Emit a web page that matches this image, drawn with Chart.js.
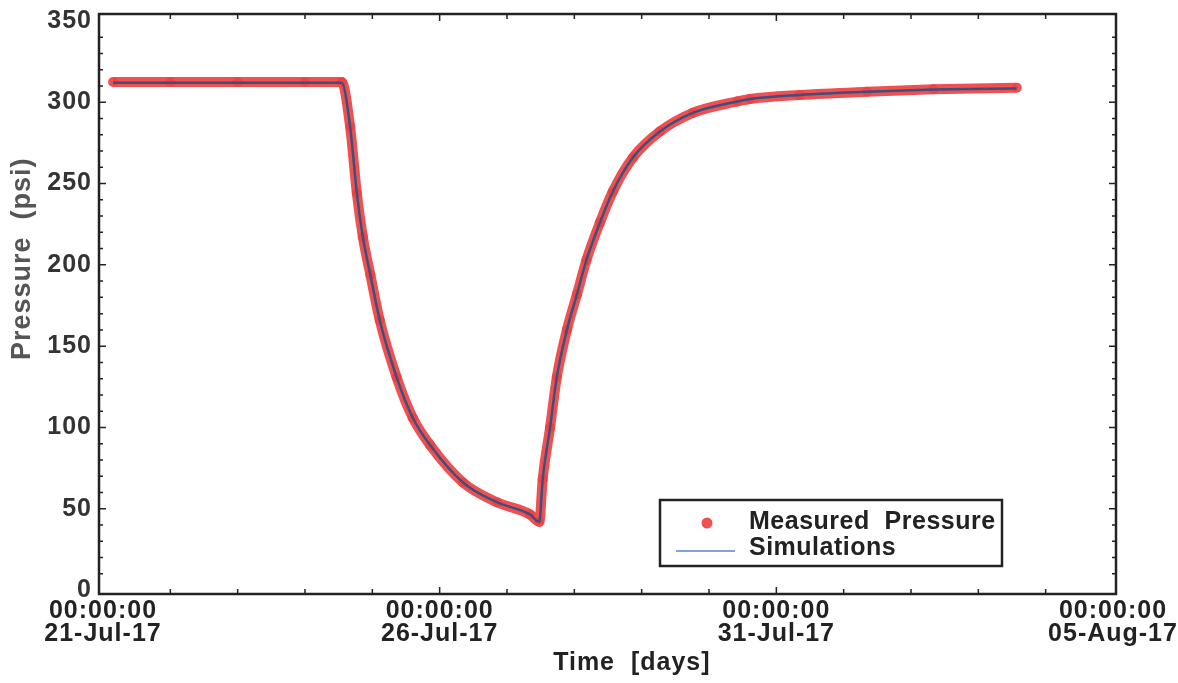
<!DOCTYPE html>
<html>
<head>
<meta charset="utf-8">
<script src="https://cdn.jsdelivr.net/npm/chart.js@4"></script>
<style>
  html, body { margin: 0; padding: 0; background: #fff; }
  #wrap { width: 1178px; height: 683px; }
</style>
</head>
<body>
<div id="wrap"><canvas id="chartPressure" width="1178" height="683"></canvas></div>
<script>
// elapsed time in days since 21-Jul-17 00:00:00
const DAYS = [0.15, 1.0, 2.0, 3.0, 3.545, 3.67, 3.77, 3.86, 3.97, 4.11, 4.36, 4.60, 4.86, 5.35, 5.85, 6.34, 6.48,
    6.53, 6.64, 6.74, 6.89, 7.04, 7.18, 7.38, 7.57, 7.87, 8.27, 8.76, 9.42, 9.61, 10.35, 11.35, 12.33, 13.57];
const MEASURED_PSI = [312.5, 312.5, 312.5, 312.5, 312.5, 285, 244, 217, 194, 166, 131, 106, 89, 66, 54, 46.5, 42,
    68, 100, 131, 160, 182, 203, 226, 245, 266, 282, 293.5, 300.5, 302, 304.5, 306.5, 308, 309];
const SIMULATED_PSI = [312, 312, 312, 312, 312, 285, 244, 217, 194, 166, 131, 106, 89, 66, 54, 46.5, 42,
    68, 100, 131, 160, 182, 203, 226, 245, 266, 282, 293.5, 300.5, 302, 304.5, 306.5, 307.8, 308.5];
const X_TICK_TIMES = ["00:00:00", "00:00:00", "00:00:00", "00:00:00"];
const X_TICK_DATES = ["21-Jul-17", "26-Jul-17", "31-Jul-17", "05-Aug-17"];

const FONT = "'Liberation Sans', Arial, sans-serif";
const RED = "rgba(238, 66, 66, 0.92)";
const BLUE = "#3d4f7e";

function toPoints(xs, ys) {
    return xs.map((x, i) => ({ x: x, y: ys[i] }));
}

// the original lettering is set a bit wider than Liberation Sans bold
const spacingPlugin = {
    id: 'spacing',
    beforeUpdate(chart) { chart.ctx.letterSpacing = '1px'; },
    beforeDraw(chart) { chart.ctx.letterSpacing = '1px'; },
};

// frame, inward ticks and legend box
const framePlugin = {
    id: 'frame',
    afterDraw(chart) {
        const ctx = chart.ctx;
        const a = chart.chartArea;
        const xs = chart.scales.x, ys = chart.scales.y;
        const fl = a.left - 4, ft = a.top - 7, fr = a.right + 3, fb = a.bottom + 4;
        ctx.save();
        ctx.strokeStyle = "#222";
        ctx.lineWidth = 2.5;
        ctx.strokeRect(fl, ft, fr - fl, fb - ft);

        ctx.lineWidth = 1.5;
        ctx.beginPath();
        for (let d = 1; d < 15; d++) {
            const px = xs.getPixelForValue(d);
            const len = d % 5 === 0 ? 7 : 5;
            ctx.moveTo(px, fb); ctx.lineTo(px, fb - len);
            ctx.moveTo(px, ft); ctx.lineTo(px, ft + len);
        }
        for (let v = 10; v < 350; v += 10) {
            const py = ys.getPixelForValue(v);
            const len = v % 50 === 0 ? 7 : 4;
            ctx.moveTo(fl, py); ctx.lineTo(fl + len, py);
            ctx.moveTo(fr, py); ctx.lineTo(fr - len, py);
        }
        ctx.stroke();

        // legend
        const bx = a.right - 453, by = a.bottom - 90, bw = 342, bh = 66;
        ctx.fillStyle = "#fff";
        ctx.fillRect(bx, by, bw, bh);
        ctx.lineWidth = 2.5;
        ctx.strokeStyle = "#222";
        ctx.strokeRect(bx, by, bw, bh);
        const ds = chart.data.datasets;
        ctx.fillStyle = RED;
        ctx.beginPath();
        ctx.arc(bx + 47, by + 23, 5.5, 0, Math.PI * 2);
        ctx.fill();
        ctx.strokeStyle = "#5b86c4";
        ctx.lineWidth = 1.5;
        ctx.beginPath();
        ctx.moveTo(bx + 16, by + 51); ctx.lineTo(bx + 75, by + 51);
        ctx.stroke();
        ctx.fillStyle = "#222";
        ctx.font = "bold 25px " + FONT;
        ctx.letterSpacing = '0.5px';
        ctx.textBaseline = "middle";
        ctx.fillText(ds[0].label, bx + 89, by + 22);
        ctx.fillText(ds[1].label, bx + 89, by + 48);
        ctx.restore();
    }
};

function createPressureChart() {
    const data = {
        datasets: [{
            label: 'Measured  Pressure',
            data: toPoints(DAYS, MEASURED_PSI),
            borderColor: RED,
            backgroundColor: RED,
            borderWidth: 10,
            pointRadius: 5,
            pointBorderWidth: 0,
            cubicInterpolationMode: 'monotone',
            order: 2,
        },
        {
            label: 'Simulations',
            data: toPoints(DAYS, SIMULATED_PSI),
            borderColor: BLUE,
            backgroundColor: BLUE,
            borderWidth: 2.5,
            pointRadius: 0,
            cubicInterpolationMode: 'monotone',
            order: 1,
        }]
    };

    const config = {
        type: 'line',
        data: data,
        options: {
            responsive: false,
            animation: false,
            layout: { padding: { top: 21, right: 65, left: 0, bottom: 0 } },
            plugins: {
                legend: { display: false },
                tooltip: { enabled: false },
            },
            scales: {
                x: {
                    type: 'linear',
                    min: 0,
                    max: 15,
                    afterFit: (s) => { s.height = 93; s.paddingLeft = 0; s.paddingRight = 0; },
                    afterBuildTicks: (s) => { s.ticks = [0, 5, 10, 15].map(v => ({ value: v })); },
                    grid: { display: false, drawTicks: false },
                    border: { display: false },
                    ticks: {
                        padding: 10,
                        maxRotation: 0,
                        autoSkip: false,
                        color: '#222',
                        font: { family: FONT, size: 25, weight: 'bold', lineHeight: 0.92 },
                        callback: (v) => [X_TICK_TIMES[v / 5], X_TICK_DATES[v / 5]],
                    },
                    title: {
                        display: true,
                        text: '      Time  [days]',
                        color: '#222',
                        font: { family: FONT, size: 25, weight: 'bold', lineHeight: 1.1 },
                        padding: { top: 0, bottom: 6 },
                    }
                },
                y: {
                    min: 0,
                    max: 350,
                    afterFit: (s) => { s.width = 103; s.paddingTop = 0; s.paddingBottom = 0; },
                    grid: { display: false, drawTicks: false },
                    border: { display: false },
                    ticks: {
                        stepSize: 50,
                        padding: 11,
                        color: '#333',
                        font: { family: FONT, size: 25, weight: 'bold' },
                    },
                    title: {
                        display: true,
                        text: '           Pressure  (psi)',
                        color: '#555',
                        font: { family: FONT, size: 27, weight: 'bold', lineHeight: 1.1 },
                        padding: { top: 8, bottom: 0 },
                    }
                }
            }
        },
        plugins: [spacingPlugin, framePlugin]
    };

    return new Chart(document.getElementById('chartPressure'), config);
}

const chartPressure = createPressureChart();
</script>
</body>
</html>
